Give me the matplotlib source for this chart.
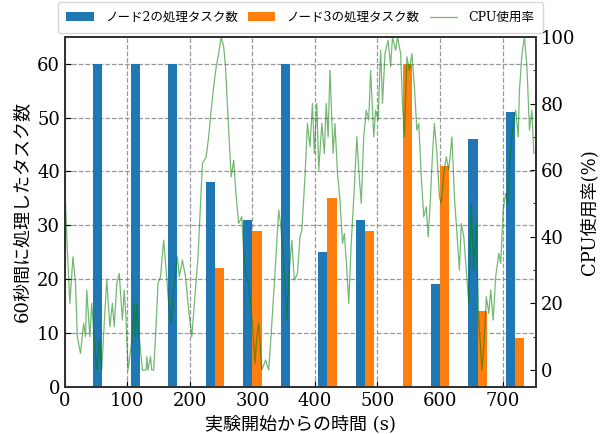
import matplotlib
matplotlib.use('Agg')
import matplotlib.pyplot as plt
from matplotlib.ticker import MultipleLocator
import numpy as np

plt.rcParams['font.family'] = ['DejaVu Serif', 'Noto Sans CJK JP']

# 60 s ごとの集計
slot_t = [60, 120, 180, 240, 300, 360, 420, 480, 540, 600, 660, 720]
node2_tasks = [60, 60, 60, 38, 31, 60, 25, 31, 0, 19, 46, 51]
node3_tasks = [0, 0, 0, 22, 29, 0, 35, 29, 60, 41, 14, 9]

# CPU 使用率 (読み取り値)
cpu_t = [0, 1, 4, 8, 13, 17, 20, 25, 30, 33, 35, 40, 43, 49, 51, 55, 59, 63,
         67, 72, 76, 79, 83, 87, 92, 95, 98, 101, 108, 111, 113, 115, 119,
         122, 124, 130, 131, 133, 137, 139, 142, 145, 149, 153, 158, 162,
         166, 170, 174, 180, 183, 188, 193, 198, 203, 208, 213, 217, 220,
         226, 230, 234, 238, 242, 246, 250, 254, 257, 262, 266, 270, 274,
         278, 283, 286, 290, 294, 300, 304, 307, 310, 315, 321, 326, 331,
         337, 342, 345, 351, 355, 359, 363, 367, 372, 376, 379, 384, 388,
         392, 396, 399, 403, 406, 411, 415, 418, 421, 424, 429, 432, 436,
         440, 444, 447, 451, 454, 458, 463, 467, 470, 474, 478, 482, 486,
         489, 494, 497, 501, 505, 508, 512, 517, 521, 524, 529, 532, 537,
         540, 543, 547, 551, 555, 559, 563, 566, 570, 574, 578, 581, 584,
         588, 591, 595, 599, 602, 606, 610, 614, 619, 623, 627, 631, 634,
         638, 642, 646, 650, 654, 658, 662, 667, 671, 674, 678, 681, 685,
         689, 694, 697, 701, 705, 708, 712, 716, 721, 725, 727, 731, 735,
         739, 743, 747, 750]
cpu_v = [48, 50, 36, 20, 34, 26, 10, 5, 14, 10, 24, 10, 20, 4, 0, 9, 0, 14,
         27, 13, 20, 13, 26, 29, 15, 24, 15, 0, 10, 20, 10, 20, 10,
         4, 0, 0, 4, 0, 4, 0, 0, 10, 26, 28, 39, 30,
         20, 14, 24, 34, 28, 33, 28, 18, 10, 22, 34, 50, 62,
         64, 70, 78, 85, 91, 95, 100, 97, 91, 72, 58, 63, 52,
         44, 46, 35, 28, 26, 14, 2, 10, 14, 0, 3, 0, 14,
         32, 48, 44, 30, 15, 30, 39, 27, 29, 40, 42, 58, 74,
         67, 80, 65, 80, 60, 74, 65, 80, 70, 90, 65, 74, 59,
         51, 38, 41, 30, 20, 38, 55, 70, 60, 50, 70, 78, 75,
         90, 70, 78, 75, 96, 80, 95, 99, 91, 100, 96, 100, 95,
         80, 70, 94, 90, 95, 85, 72, 74, 58, 46, 49, 40, 49,
         65, 74, 65, 52, 50, 59, 64, 60, 70, 52, 41, 30, 44,
         40, 30, 20, 50, 30, 44, 15, 0, 10, 22, 17, 24, 15,
         28, 35, 32, 48, 53, 50, 64, 72, 78, 70, 84, 95, 100,
         91, 72, 78, 65]

bar_w = 15

fig = plt.figure(figsize=(6.06, 4.34), dpi=100)
ax = fig.add_axes([0.107, 0.109, 0.777, 0.806])
x = np.array(slot_t)
b1 = ax.bar(x - bar_w / 2, node2_tasks, bar_w, color='#1f77b4',
            label='ノード2の処理タスク数')
b2 = ax.bar(x + bar_w / 2, node3_tasks, bar_w, color='#ff7f0e',
            label='ノード3の処理タスク数')
ax.set_xlim(0, 753)
ax.set_ylim(0, 65)
ax.set_yticks(range(0, 61, 10))
ax.set_xticks(range(0, 701, 100))
ax.set_axisbelow(True)
ax.grid(True, linestyle='--', color='gray', alpha=0.8, linewidth=0.9)
ax.tick_params(direction='in', labelsize=13, length=4)
ax.set_xlabel('実験開始からの時間 (s)', fontsize=13)
ax.set_ylabel('60秒間に処理したタスク数', fontsize=13)

ax2 = ax.twinx()
l1, = ax2.plot(cpu_t, cpu_v, color='green', alpha=0.55, linewidth=0.9,
               label='CPU使用率')
ax2.set_ylim(-5, 100)
ax2.set_yticks(range(0, 101, 20))
ax2.yaxis.set_minor_locator(MultipleLocator(10))
ax2.tick_params(direction='in', labelsize=13, length=4)
ax2.tick_params(which='minor', direction='in', length=2)
ax2.set_ylabel('CPU使用率(%)', fontsize=13)

for a in (ax, ax2):
    for s in a.spines.values():
        s.set_color('#333333')
        s.set_linewidth(1.4)

ax.legend([b1, b2, l1], [b1.get_label(), b2.get_label(), l1.get_label()],
          loc='lower center', bbox_to_anchor=(0.5, 1.012), ncol=3,
          borderaxespad=0, fontsize=9, handlelength=2.2, handletextpad=0.9,
          columnspacing=0.8, borderpad=0.7)

fig.savefig('out.png', dpi=100)
